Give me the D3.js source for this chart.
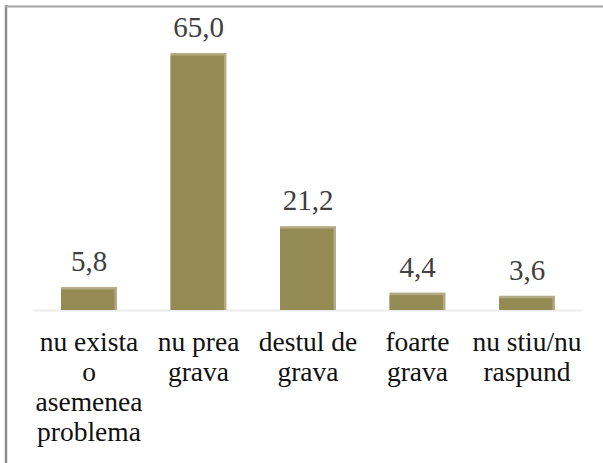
<!DOCTYPE html>
<html>
<head>
<meta charset="utf-8">
<script src="https://cdn.jsdelivr.net/npm/d3@7/dist/d3.min.js"></script>
<style>
  html, body { margin: 0; padding: 0; background: #fff; }
  svg { display: block; }
  svg text, svg tspan { font-family: "Liberation Serif", "Times New Roman", serif !important; }
</style>
</head>
<body>
<svg id="chart" width="603" height="463"></svg>
<script>
// Data
const categories = ["nu exista o asemenea problema", "nu prea grava", "destul de grava", "foarte grava", "nu stiu/nu raspund"];
const categoryLines = [
  ["nu exista", "o", "asemenea", "problema"],
  ["nu prea", "grava"],
  ["destul de", "grava"],
  ["foarte", "grava"],
  ["nu stiu/nu", "raspund"]
];
const values = [5.8, 65.0, 21.2, 4.4, 3.6];

const W = 603, H = 463;
const FONT = "'Liberation Serif', 'Times New Roman', serif";
const svg = d3.select("#chart");

const baseY = 310;
const x = d3.scaleBand()
  .domain(categories)
  .range([34.25, 581.75])
  .paddingInner(0.489)
  .paddingOuter(0.2445);

const y = d3.scaleLinear()
  .domain([0, 70])
  .range([baseY, baseY - 70 * 3.954]);

// Frame (left and top border)
svg.append("line").attr("x1", 6).attr("x2", 6).attr("y1", 5).attr("y2", H)
  .attr("stroke", "#8c8c8c").attr("stroke-width", 2.5);
svg.append("line").attr("x1", 5).attr("x2", W).attr("y1", 6.5).attr("y2", 6.5)
  .attr("stroke", "#a6a6a6").attr("stroke-width", 2);

// Baseline
svg.append("line")
  .attr("x1", x.range()[0] - 1).attr("x2", x.range()[1])
  .attr("y1", baseY + 0.5).attr("y2", baseY + 0.5)
  .attr("stroke", "#ececec").attr("stroke-width", 2);

// Bars
const bars = svg.append("g").selectAll("g").data(values).join("g");
bars.append("rect")
  .attr("x", (d, i) => x(categories[i]))
  .attr("y", d => y(d))
  .attr("width", x.bandwidth())
  .attr("height", d => baseY - y(d))
  .attr("fill", "#b3ab84");
bars.append("rect")
  .attr("x", (d, i) => x(categories[i]))
  .attr("y", d => y(d) + 2.5)
  .attr("width", x.bandwidth() - 2.5)
  .attr("height", d => baseY - y(d) - 2.5)
  .attr("fill", "#948a54");

function setFont(sel, size) {
  sel.each(function() {
    this.style.setProperty("font-family", FONT, "important");
    this.style.setProperty("font-size", size + "px", "important");
  });
}

// Value labels
const vals = svg.append("g").selectAll("text").data(values).join("text")
  .attr("font-family", FONT)
  .attr("x", (d, i) => x(categories[i]) + x.bandwidth() / 2)
  .attr("y", d => y(d) - 16)
  .attr("text-anchor", "middle")
  .attr("fill", "#404040")
  .text(d => d3.format(".1f")(d).replace(".", ","));
setFont(vals, 29);

// Category labels
const cat = svg.append("g").selectAll("text").data(categories).join("text")
  .attr("font-family", FONT)
  .attr("x", d => x(d) + x.bandwidth() / 2)
  .attr("y", 351)
  .attr("text-anchor", "middle")
  .attr("fill", "#111");
setFont(cat, 27.5);
cat.each(function(d, i) {
  const t = d3.select(this);
  categoryLines[i].forEach((line, j) => {
    t.append("tspan")
      .attr("x", x(d) + x.bandwidth() / 2)
      .attr("dy", j === 0 ? 0 : 30)
      .text(line);
  });
});
</script>
</body>
</html>
